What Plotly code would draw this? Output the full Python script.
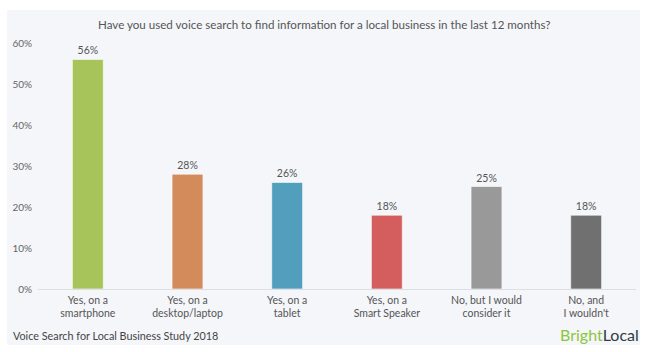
import plotly.graph_objects as go

categories = ["Yes, on a<br>smartphone", "Yes, on a<br>desktop/laptop", "Yes, on a<br>tablet",
              "Yes, on a<br>Smart Speaker", "No, but I would<br>consider it", "No, and<br>I wouldn't"]
values = [56, 28, 26, 18, 25, 18]
colors = ["#a6c45a", "#d38b5c", "#519fbd", "#d45d5d", "#999999", "#707070"]
y_ticks = [0, 10, 20, 30, 40, 50, 60]
y_tick_labels = [f"{v}%" for v in y_ticks]

W, H = 650, 352
L, R, T, B = 36, 14, 43, 63
pw, ph = W - L - R, H - T - B

def px(x):
    return (x - L) / pw

def py(y):
    return (H - B - y) / ph

font = "Lato, 'Open Sans', sans-serif"

fig = go.Figure(go.Bar(
    x=list(range(len(categories))), y=values,
    marker=dict(color=colors, line=dict(color="rgba(255,255,255,0.6)", width=1)),
    width=0.31,
    text=[f"{v}%" for v in values], textposition="outside",
    textfont=dict(size=10.5, color="#555555", family=font),
    cliponaxis=False,
))

fig.update_layout(
    width=W, height=H, margin=dict(l=L, r=R, t=T, b=B),
    paper_bgcolor="white", plot_bgcolor="rgba(0,0,0,0)",
    showlegend=False,
    font=dict(family=font, color="#555555"),
    xaxis=dict(tickvals=list(range(len(categories))), ticktext=categories,
               range=[-0.5, 5.5], showgrid=False, zeroline=False, showline=False,
               tickfont=dict(size=10.5, color="#555555"), ticks="", ticklabelstandoff=3),
    yaxis=dict(range=[0, 60], tickvals=y_ticks, ticktext=y_tick_labels,
               showgrid=False, zeroline=True, zerolinecolor="#dcdfe3", zerolinewidth=1,
               tickfont=dict(size=10, color="#666666"), ticklabelstandoff=5),
    shapes=[dict(type="rect", xref="paper", yref="paper",
                 x0=px(5), x1=px(640), y0=py(345), y1=py(10),
                 fillcolor="#f4f6f9", line=dict(width=0), layer="below")],
    annotations=[
        dict(text="Have you used voice search to find information for a local business in the last 12 months?",
             xref="paper", yref="paper", x=px(323), y=py(24), xanchor="center", yanchor="middle",
             showarrow=False, font=dict(size=11.6, color="#555555", family=font)),
        dict(text="Voice Search for Local Business Study 2018",
             xref="paper", yref="paper", x=px(9), y=py(335), xanchor="left", yanchor="middle",
             showarrow=False, font=dict(size=10.8, color="#444444", family=font)),
        dict(text="<span style='color:#8cc63f'>Bright</span><span style='color:#2e3b44'>Local</span>",
             xref="paper", yref="paper", x=px(641), y=py(334), xanchor="right", yanchor="middle",
             showarrow=False, font=dict(size=16, family=font)),
    ],
)

fig.write_html("out.html")
